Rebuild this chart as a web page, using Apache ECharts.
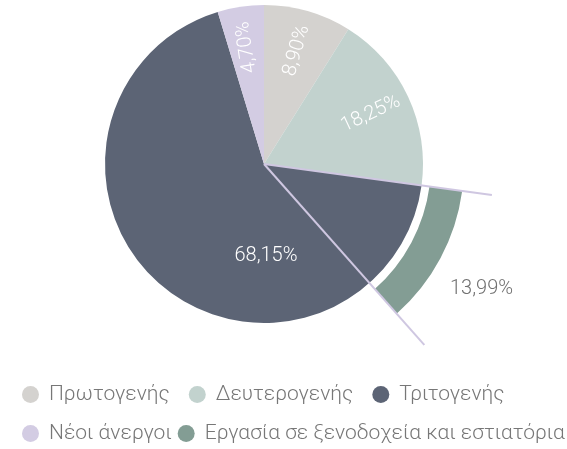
<!DOCTYPE html>
<html>
<head>
<meta charset="utf-8">
<script src="https://cdn.jsdelivr.net/npm/echarts@6/dist/echarts.min.js"></script>
<style>
  html, body { margin: 0; padding: 0; background: #fff; }
  #chart { width: 567px; height: 449px; }
</style>
</head>
<body>
<div id="chart"></div>
<script>
// pie slices (percent)
const sectors = ['Πρωτογενής', 'Δευτερογενής', 'Τριτογενής', 'Νέοι άνεργοι'];
const shares = [8.90, 18.25, 68.15, 4.70];
const sectorColors = ['#d4d2cf', '#c2d2ce', '#5c6475', '#d3cce3'];

// outer band, a part of Τριτογενής
const bandName = 'Εργασία σε ξενοδοχεία και εστιατόρια';
const bandShare = 13.99;
const bandSweep = 11.31;   // part of the full circle the band covers
const bandColor = '#839d94';

// connector lines from the centre, length in px
const connectorLen = [230, 242];

const CX = 264, CY = 164, R = 159;
const LABEL_R = 118;
const FONT = 'Roboto, "Noto Sans", sans-serif';

const fmt = v => v.toFixed(2).replace('.', ',') + '%';
const bandStart = shares[0] + shares[1];

// mid angle of every slice, degrees clockwise from 12 o'clock
const midAngles = shares.map((s, i) => (shares.slice(0, i).reduce((a, b) => a + b, 0) + s / 2) * 3.6);

const pieData = sectors.map((name, i) => ({
    name: name,
    value: shares[i],
    itemStyle: {color: sectorColors[i]},
    // big slice gets a flat label, the others run along the radius
    label: {rotate: i === 2 ? 0 : 90 - midAngles[i]}
}));

const lineStyle = {color: '#cfc7e1', width: 2};
const legendText = {fontFamily: FONT, fontWeight: 300, fontSize: 21, color: '#777', padding: [0, 0, 0, 5]};

const chart = echarts.init(document.getElementById('chart'));
chart.setOption({
    animation: false,
    polar: {center: [CX, CY], radius: 242},
    angleAxis: {type: 'value', min: 0, max: 100, startAngle: 90, show: false, splitLine: {show: false}},
    radiusAxis: {type: 'value', min: 0, max: 242, show: false, splitLine: {show: false}},
    legend: [
        {
            data: sectors.slice(0, 3), left: 22, top: 384, itemGap: 19, padding: 0,
            icon: 'circle', itemWidth: 17, itemHeight: 17, selectedMode: false, textStyle: legendText
        },
        {
            data: [sectors[3], bandName], left: 22, top: 423, itemGap: 6, padding: 0,
            icon: 'circle', itemWidth: 17, itemHeight: 17, selectedMode: false, textStyle: legendText
        }
    ],
    series: [
        {
            type: 'pie',
            center: [CX, CY],
            radius: [0, R],
            startAngle: 90,
            avoidLabelOverlap: false,
            emphasis: {disabled: true},
            label: {
                show: true, position: 'inside', color: '#fff',
                fontFamily: FONT, fontWeight: 300, fontSize: 20,
                formatter: p => fmt(p.value)
            },
            labelLine: {show: false},
            // labels further out than the default; the big one sits under the centre
            labelLayout: p => {
                if (p.dataIndex === 2) return {x: CX + 2, y: CY + 92, align: 'center', verticalAlign: 'middle'};
                const a = midAngles[p.dataIndex] * Math.PI / 180;
                return {
                    x: CX + LABEL_R * Math.sin(a),
                    y: CY - LABEL_R * Math.cos(a),
                    align: 'center', verticalAlign: 'middle'
                };
            },
            data: pieData
        },
        {
            type: 'pie',
            center: [CX, CY],
            radius: [167, 200],
            startAngle: 90 - bandStart * 3.6,
            silent: true,
            avoidLabelOverlap: false,
            emphasis: {disabled: true},
            labelLine: {show: false},
            labelLayout: p => p.dataIndex === 0 ? {dx: 53, dy: 37} : {},
            data: [
                {
                    name: bandName, value: bandSweep, itemStyle: {color: bandColor},
                    label: {
                        show: true, position: 'inside', rotate: 0, color: '#707070',
                        fontFamily: FONT, fontWeight: 300, fontSize: 20,
                        formatter: () => fmt(bandShare)
                    }
                },
                {name: '', value: 100 - bandSweep, itemStyle: {color: 'rgba(0,0,0,0)'}, label: {show: false}}
            ]
        },
        {
            type: 'line', coordinateSystem: 'polar', symbol: 'none', silent: true, z: 5,
            lineStyle: lineStyle,
            data: [[0, bandStart], [connectorLen[0], bandStart]]
        },
        {
            type: 'line', coordinateSystem: 'polar', symbol: 'none', silent: true, z: 5,
            lineStyle: lineStyle,
            data: [[0, bandStart + bandSweep], [connectorLen[1], bandStart + bandSweep]]
        }
    ]
});
</script>
</body>
</html>
